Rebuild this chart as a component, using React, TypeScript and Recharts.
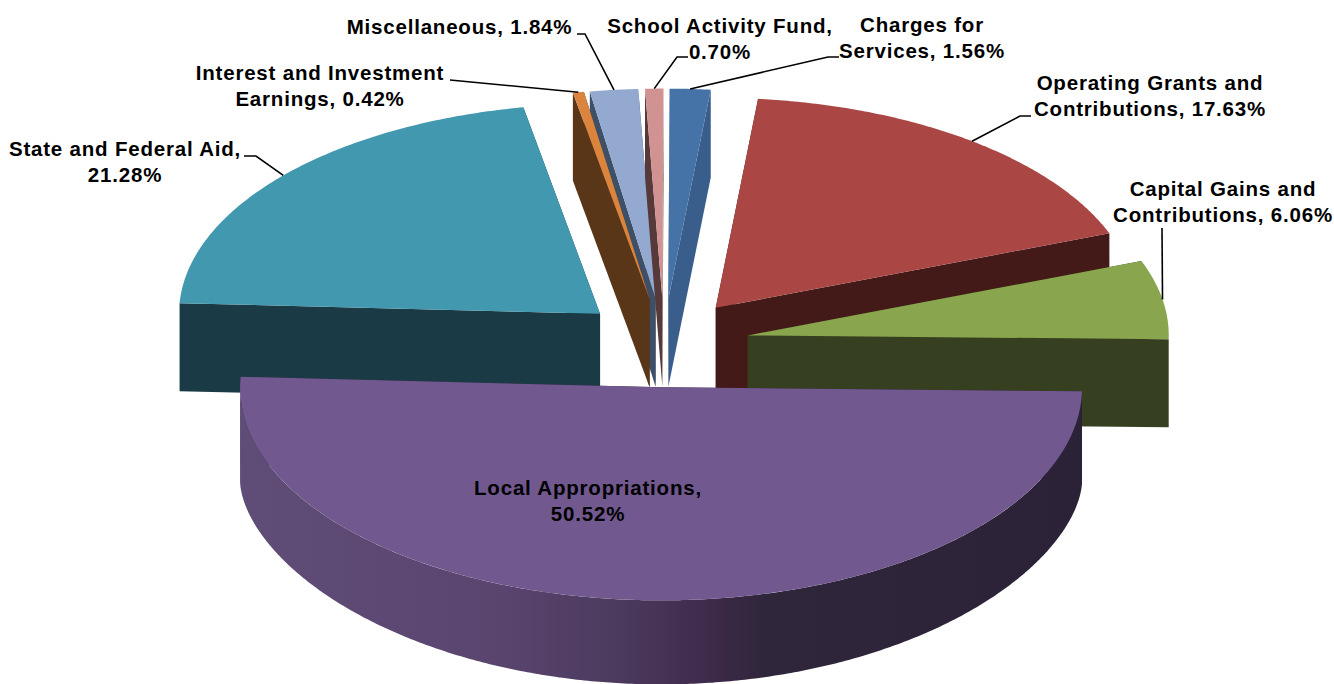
import { PieChart, Pie } from 'recharts';

// clockwise order, starting after Local Appropriations
const categories = [
  'State and Federal Aid',
  'Interest and Investment Earnings',
  'Miscellaneous',
  'School Activity Fund',
  'Charges for Services',
  'Operating Grants and Contributions',
  'Capital Gains and Contributions',
  'Local Appropriations',
];
const shares = [21.28, 0.42, 1.84, 0.7, 1.56, 17.63, 6.06, 50.52];

// these two get painted over the rest, the way the original stacks them
const frontSlices = ['Interest and Investment Earnings', 'Local Appropriations'];

const topColors = ['#4198af', '#db843d', '#93a9cf', '#d19392', '#4572a7', '#aa4644', '#89a54e', '#71588f'];
const wallColors = ['#1a3a45', '#593618', '#3e4f68', '#57393a', '#3a5e8c', '#441a18', '#363f1f', '#2c2238'];

const labelLines = [
  ['State and Federal Aid,', '21.28%'],
  ['Interest and Investment', 'Earnings, 0.42%'],
  ['Miscellaneous, 1.84%'],
  ['School Activity Fund,', '0.70%'],
  ['Charges for', 'Services, 1.56%'],
  ['Operating Grants and', 'Contributions, 17.63%'],
  ['Capital Gains and', 'Contributions, 6.06%'],
  ['Local Appropriations,', '50.52%'],
];

const data = categories.map((name, i) => ({ name, value: shares[i] }));

const WIDTH = 1334;
const HEIGHT = 684;
const CX = 664;
const CY = 343;
const RX = 421;
const BACK_RATIO = 210 / 421;
const FRONT_RATIO = 213 / 421;
const EXPLODE_X = 85;
const EXPLODE_Y = 44.4;
const DEPTH = 88;
// the big front slice has a rounder lower edge than its rim
const LOCAL_SIDE_DROP = 94;
const LOCAL_BOTTOM_DROP = 203;

// label anchor (centre x, first baseline y) and leader elbows, in drawing order
const labelAnchors = [
  [125, 156],
  [320, 80],
  [459.5, 34],
  [720, 33],
  [922, 32],
  [1150, 90],
  [1223, 196],
  [588, 495],
];
const leaderElbows: number[][][] = [
  [[244, 156], [256, 156]],
  [[450, 80]],
  [[577, 34], [585, 34]],
  [[688, 57], [677, 57]],
  [[839, 57], [828, 57]],
  [[1031, 116], [1020, 116]],
  [[1162, 228]],
  [],
];

const rad = (d: number) => (d * Math.PI) / 180;

// theta is measured clockwise from the top of the pie
function rimPoint(ax: number, ay: number, theta: number) {
  const c = Math.cos(rad(theta));
  const ry = RX * (c > 0 ? BACK_RATIO : FRONT_RATIO);
  return [ax + RX * Math.sin(rad(theta)), ay - ry * c];
}

function sampleRim(ax: number, ay: number, from: number, to: number) {
  const pts: number[][] = [];
  const steps = Math.max(2, Math.ceil((to - from) * 2));
  for (let i = 0; i <= steps; i++) {
    pts.push(rimPoint(ax, ay, from + ((to - from) * i) / steps));
  }
  return pts;
}

const toPath = (pts: number[][]) =>
  'M' + pts.map((p) => `${p[0].toFixed(2)},${p[1].toFixed(2)}`).join('L') + 'Z';

function slicePose(startAngle: number, endAngle: number) {
  const span = Math.abs(endAngle - startAngle);
  const from = ((90 - startAngle) % 360 + 360) % 360;
  const to = from + span;
  const mid = (from + to) / 2;
  const ax = CX + EXPLODE_X * Math.sin(rad(mid));
  const ay = CY - EXPLODE_Y * Math.cos(rad(mid));
  return { from, to, mid, ax, ay };
}

function frontWall(ax: number, ay: number, lo: number, hi: number, isLocal: boolean) {
  const upper = sampleRim(ax, ay, lo, hi);
  const steps = upper.length - 1;
  const lower = upper.map((p, i) => {
    if (!isLocal) return [p[0], p[1] + DEPTH];
    const theta = lo + ((hi - lo) * i) / steps;
    const c = Math.abs(Math.cos(rad(theta)));
    return [p[0], ay + LOCAL_SIDE_DROP + (LOCAL_BOTTOM_DROP - 0) * Math.pow(c, 1.16)];
  });
  return [...upper, ...lower.reverse()];
}

function makeSliceShape(layer: 'back' | 'front') {
  return function SliceShape(props: any) {
    const { startAngle, endAngle, index } = props;
    const inFront = frontSlices.includes(categories[index]);
    if (inFront !== (layer === 'front')) return null;

    const { from, to, ax, ay } = slicePose(startAngle, endAngle);
    const rim = sampleRim(ax, ay, from, to);
    const wall = wallColors[index];
    const top = topColors[index];
    const isLocal = categories[index] === 'Local Appropriations';

    const radialWall = (p: number[]) =>
      toPath([[ax, ay], p, [p[0], p[1] + DEPTH], [ax, ay + DEPTH]]);

    // only the part of the rim facing the viewer shows an outer wall
    const lo = Math.max(from, 90);
    const hi = Math.min(to, 270);

    return (
      <g>
        {isLocal && (
          <defs>
            <linearGradient id="localWall" gradientUnits="userSpaceOnUse" x1={ax - RX} x2={ax + RX} y1={0} y2={0}>
              <stop offset="0" stopColor="#5f4d78" />
              <stop offset="0.3" stopColor="#5a456f" />
              <stop offset="0.45" stopColor="#4c3a5e" />
              <stop offset="0.56" stopColor="#3e2a4a" />
              <stop offset="0.62" stopColor="#30263b" />
              <stop offset="1" stopColor="#2b2238" />
            </linearGradient>
          </defs>
        )}
        <path d={radialWall(rim[0])} fill={wall} />
        <path d={radialWall(rim[rim.length - 1])} fill={wall} />
        {hi > lo && (
          <path d={toPath(frontWall(ax, ay, lo, hi, isLocal))} fill={isLocal ? 'url(#localWall)' : wall} />
        )}
        <path d={toPath([[ax, ay], ...rim])} fill={top} />
      </g>
    );
  };
}

const BackShape = makeSliceShape('back');
const FrontShape = makeSliceShape('front');

function SliceLabel(props: any) {
  const { index, startAngle, endAngle } = props;
  const [x, y] = labelAnchors[index];
  const elbows = leaderElbows[index];
  const { mid, ax, ay } = slicePose(startAngle, endAngle);
  const end = rimPoint(ax, ay, mid);
  return (
    <g>
      {elbows.length > 0 && (
        <polyline
          points={[...elbows, end].map((p) => p.join(',')).join(' ')}
          fill="none"
          stroke="#000"
          strokeWidth={1.6}
        />
      )}
      <text
        x={x}
        y={y}
        textAnchor="middle"
        fontFamily="'Liberation Sans', Arial, sans-serif"
        fontWeight="bold"
        fontSize={20.5}
        letterSpacing={0.8}
        fill="#000"
      >
        {labelLines[index].map((line, i) => (
          <tspan key={line} x={x} dy={i === 0 ? 0 : 26}>
            {line}
          </tspan>
        ))}
      </text>
    </g>
  );
}

export default function App() {
  return (
    <div style={{ position: 'absolute', left: 0, top: 0, width: WIDTH, height: HEIGHT, overflow: 'hidden', background: '#fff' }}>
      <PieChart width={WIDTH} height={HEIGHT} margin={{ top: 0, right: 0, bottom: 0, left: 0 }}>
        <Pie
          data={data}
          dataKey="value"
          cx={CX}
          cy={CY}
          outerRadius={RX}
          startAngle={177.1}
          endAngle={-182.9}
          stroke="none"
          shape={BackShape}
          labelLine={false}
          isAnimationActive={false}
        />
        <Pie
          data={data}
          dataKey="value"
          cx={CX}
          cy={CY}
          outerRadius={RX}
          startAngle={177.1}
          endAngle={-182.9}
          stroke="none"
          shape={FrontShape}
          label={SliceLabel}
          labelLine={false}
          isAnimationActive={false}
        />
      </PieChart>
    </div>
  );
}
